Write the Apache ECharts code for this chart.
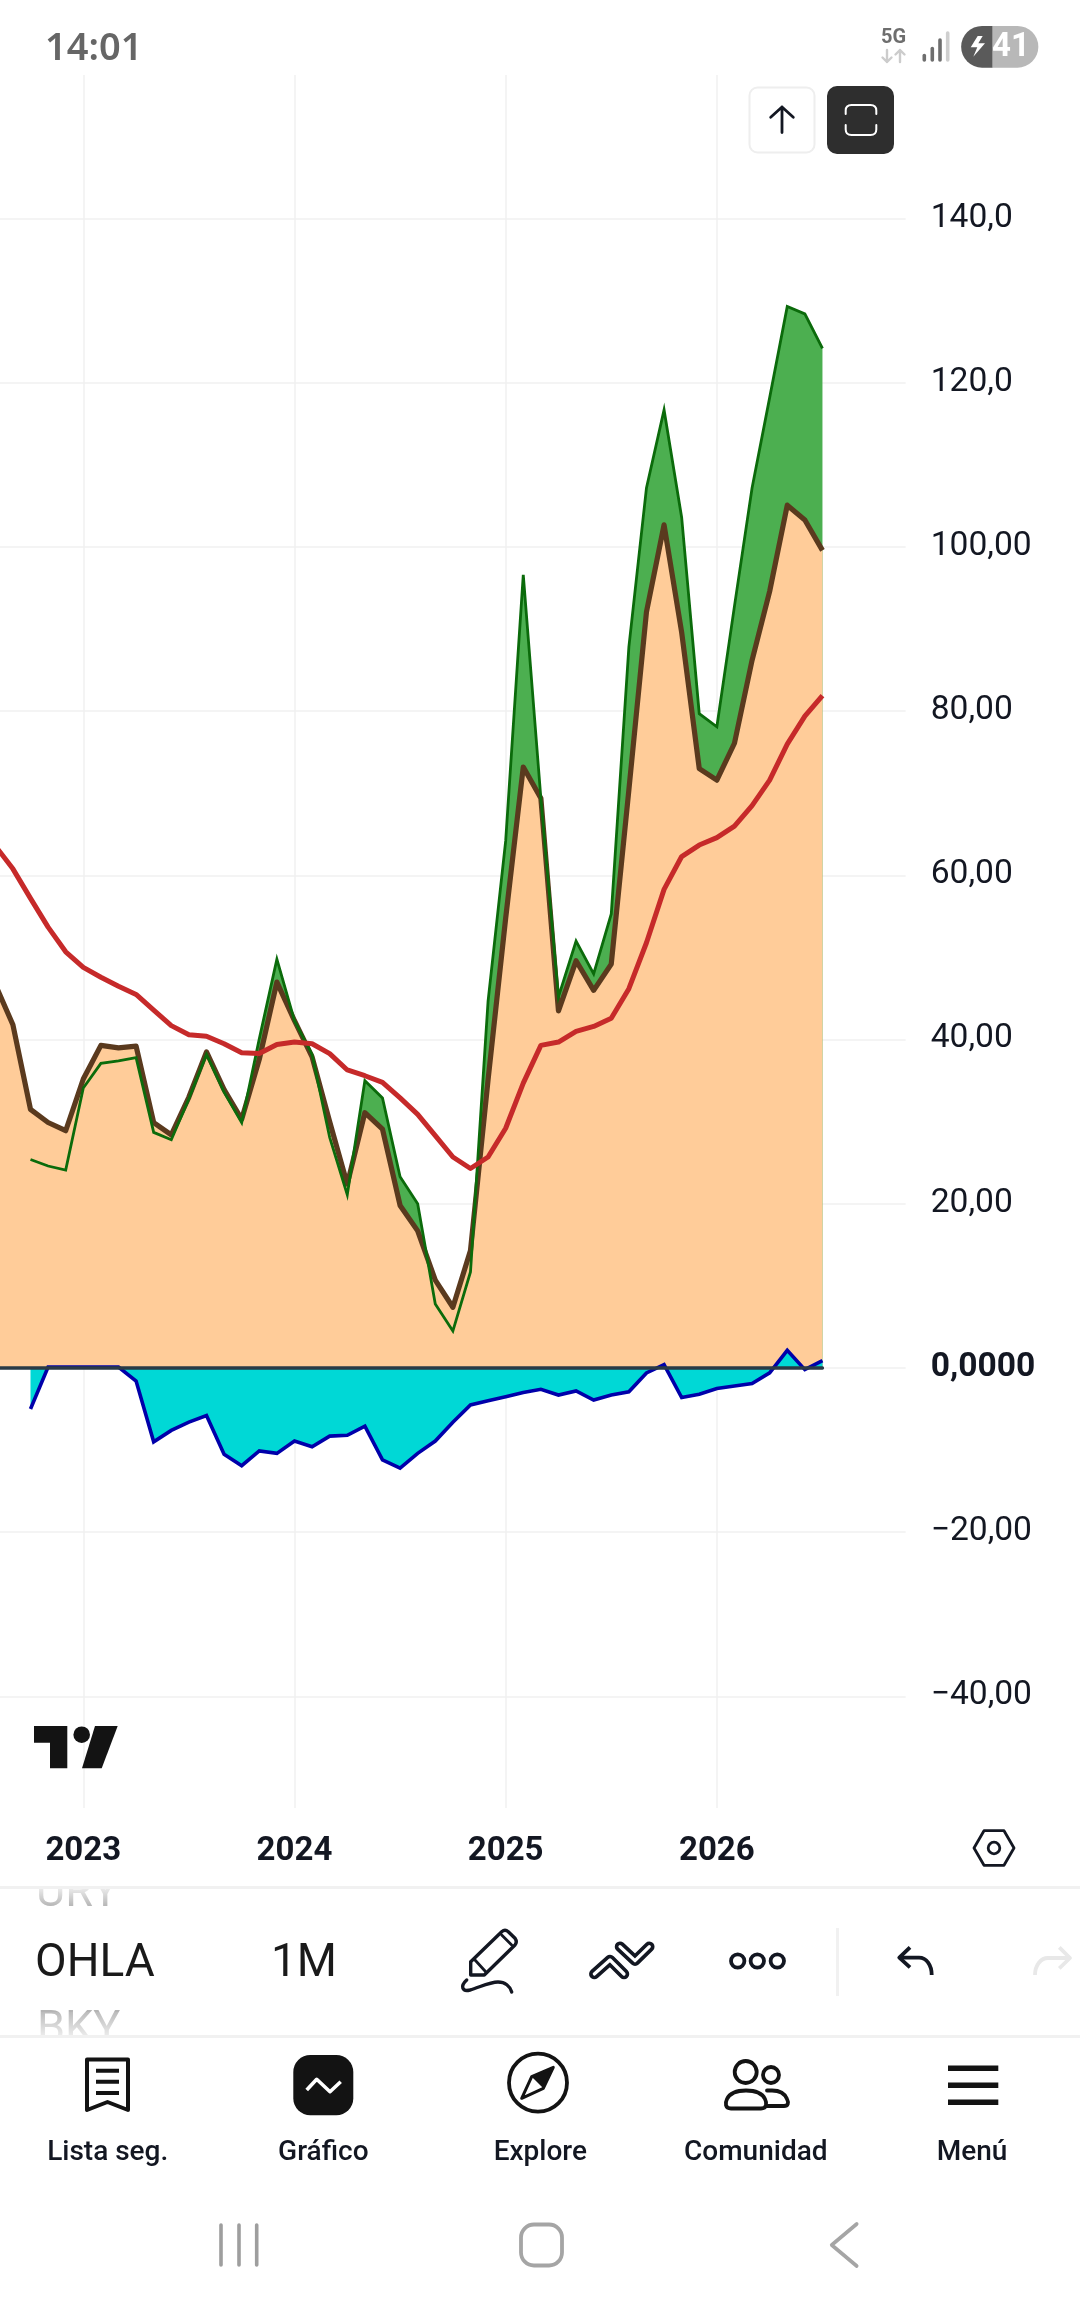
<!DOCTYPE html>
<html lang="es">
<head>
<meta charset="utf-8">
<title>OHLA 1M</title>
<style>
  html, body { margin: 0; padding: 0; background: #fff; }
  #chart { width: 1080px; height: 2316px; }
</style>
<script src="https://cdn.jsdelivr.net/npm/echarts@6/dist/echarts.min.js"></script>
</head>
<body>
<div id="chart"></div>
<script>
// Monthly sample dates
const months = [
  '2022-08','2022-09','2022-10','2022-11','2022-12',
  '2023-01','2023-02','2023-03','2023-04','2023-05','2023-06','2023-07','2023-08','2023-09','2023-10','2023-11','2023-12',
  '2024-01','2024-02','2024-03','2024-04','2024-05','2024-06','2024-07','2024-08','2024-09','2024-10','2024-11','2024-12',
  '2025-01','2025-02','2025-03','2025-04','2025-05','2025-06','2025-07','2025-08','2025-09','2025-10','2025-11','2025-12',
  '2026-01','2026-02','2026-03','2026-04','2026-05','2026-06','2026-07'
];

// Peach area with its thick brown outline
const brownValues = [
  46.7, 41.8, 31.5, 29.9, 28.9, 35.2, 39.3, 39.0, 39.2, 29.9, 28.4, 33.0,
  38.5, 33.9, 30.3, 37.6, 47.0, 42.3, 37.9, 30.0, 22.4, 31.1, 29.1, 19.8,
  16.7, 10.7, 7.4, 14.3, 35.1, 54.8, 73.2, 69.4, 43.5, 49.6, 46.0, 49.2,
  70.4, 92.1, 102.7, 89.6, 73.0, 71.6, 76.1, 86.2, 94.6, 105.1, 103.3, 99.6
];

// Green line, with the green band showing above the peach area
const greenValues = [
  null, null, 25.4, 24.6, 24.1, 34.1, 37.1, 37.4, 37.8, 28.7, 27.8, 32.8,
  38.2, 33.6, 29.9, 40.1, 49.8, 42.3, 38.2, 28.1, 21.1, 35.0, 32.9, 23.3,
  20.0, 7.8, 4.5, 11.7, 44.7, 64.2, 96.6, 69.4, 45.2, 52.0, 48.0, 55.3,
  87.8, 107.2, 116.7, 103.6, 79.7, 78.1, 92.8, 107.2, 118.2, 129.3, 128.4, 124.2
];

// Red average line
const redValues = [
  63.6, 60.8, 57.2, 53.7, 50.7, 48.8, 47.6, 46.5, 45.5, 43.6, 41.7, 40.6,
  40.4, 39.5, 38.4, 38.3, 39.4, 39.7, 39.5, 38.3, 36.3, 35.6, 34.8, 32.9,
  30.9, 28.3, 25.7, 24.3, 25.7, 29.2, 34.7, 39.3, 39.7, 41.0, 41.6, 42.6,
  46.2, 51.8, 58.3, 62.3, 63.7, 64.6, 66.0, 68.5, 71.6, 76.0, 79.4, 81.9
];

// Blue line with the turquoise area down to zero
const blueValues = [
  null, null, -5.0, 0.1, 0.1, 0.1, 0.1, 0.1, -1.6, -9.0, -7.6, -6.6,
  -5.8, -10.5, -11.9, -10.1, -10.4, -8.9, -9.6, -8.3, -8.2, -7.1, -11.2, -12.2,
  -10.4, -8.9, -6.6, -4.5, -4.0, -3.5, -3.0, -2.6, -3.3, -2.8, -3.9, -3.3,
  -2.9, -0.6, 0.4, -3.6, -3.2, -2.5, -2.2, -1.9, -0.6, 2.15, -0.2, 0.9
];

// Price scale ticks and how each one is printed
const priceTicks = [140, 120, 100, 80, 60, 40, 20, 0, -20, -40];
const priceTickLabels = ['140,0', '120,0', '100,00', '80,00', '60,00', '40,00', '20,00', '0,0000', '\u221220,00', '\u221240,00'];

// Horizontal scale: months counted from the first labelled January
const firstYearIndex = months.indexOf('2023-01');
const pairs = values => values
  .map((v, i) => [i - firstYearIndex, v])
  .filter(p => p[1] !== null);
const yearTicks = months
  .map((m, i) => [m, i - firstYearIndex])
  .filter(p => p[0].endsWith('-01'))
  .map(p => p[1]);
const zeroLine = months.map(() => 0);

const FONT = 'Roboto, sans-serif';
const INK = '#131722';
const SEPARATOR = '#f1f1f1';

const fillPath = (d, fill) => ({ type: 'path', shape: { pathData: d }, style: { fill, stroke: null } });
const strokePath = (d, stroke, lineWidth, cap) => ({
  type: 'path',
  shape: { pathData: d },
  style: { fill: null, stroke, lineWidth, lineCap: cap || 'round', lineJoin: 'round' }
});
const circle = (cx, cy, r, stroke, lineWidth) => ({
  type: 'circle',
  shape: { cx, cy, r },
  style: { fill: null, stroke, lineWidth }
});
const dot = (cx, cy, r, fill) => ({ type: 'circle', shape: { cx, cy, r }, style: { fill, stroke: null } });
const box = (x, y, width, height, fill, r) => ({
  type: 'rect',
  shape: { x, y, width, height, r: r || 0 },
  style: { fill, stroke: null }
});
const label = (text, x, y, font, fill, align) => ({
  type: 'text',
  style: { text, x, y, font, fill, align: align || 'center', verticalAlign: 'middle' }
});
const fade = (a, b) => new echarts.graphic.LinearGradient(0, 0, 0, 1, [
  { offset: 0, color: `rgba(255,255,255,${a})` },
  { offset: 1, color: `rgba(255,255,255,${b})` }
]);

// Status bar, chart buttons, watermark, symbol strip and navigation
function screenElements() {
  const navLabel = `500 28px ${FONT}`;
  const symbolFont = `400 46px ${FONT}`;
  return [
    // status bar
    label('14:01', 45, 49, `600 38px "Noto Sans", ${FONT}`, '#666666', 'left'),
    label('5G', 893.5, 38, `700 20px ${FONT}`, '#6e6e6e'),
    strokePath('M887 50V62M882.5 57.5L887 62L891.5 57.5', '#cccccc', 2.4),
    strokePath('M900 62V50M895.5 54.5L900 50L904.5 54.5', '#cccccc', 2.4),
    strokePath('M924.3 60V55.5', '#6e6e6e', 3.6),
    strokePath('M932.3 60V48.5', '#6e6e6e', 3.6),
    strokePath('M940 60V40', '#6e6e6e', 3.6),
    strokePath('M947.7 60V33', '#cfcfcf', 3.6),
    fillPath('M992.7 26H982A20.8 20.8 0 0 0 982 67.7H992.7Z', '#5a5a5a'),
    fillPath('M992.7 26H1017.5A20.8 20.8 0 0 1 1017.5 67.7H992.7Z', '#b8b8b8'),
    fillPath('M977.7 36L970.7 47.3H977.3L973.3 56.7L985 43.3H978.3L982.7 36Z', '#ffffff'),
    label('41', 1011, 47.5, `700 33px ${FONT}`, '#ffffff'),

    // chart buttons
    {
      type: 'rect',
      shape: { x: 749.5, y: 87.5, width: 65, height: 65, r: 8 },
      style: { fill: '#ffffff', stroke: '#eeeeee', lineWidth: 2 }
    },
    strokePath('M782 107V132.5M770.7 117.3L782 107L793.3 117.3', INK, 2.8),
    box(827, 86, 67, 68, '#2e2e2e', 10),
    strokePath('M845.7 114V110.5Q845.7 105 851.5 105H870.5Q876.3 105 876.3 110.5V114', '#ffffff', 2),
    strokePath('M845.7 125V129.5Q845.7 135 851.5 135H870.5Q876.3 135 876.3 129.5V125', '#ffffff', 2),

    // watermark
    fillPath('M34 1726H67.3V1768.3H50V1742.7H34Z', '#131313'),
    dot(81.7, 1734.7, 8.3, '#131313'),
    fillPath('M95 1726H117.7L101.7 1768.3H82Z', '#131313'),

    // scale settings
    strokePath('M974 1848L984 1830.7H1004L1014 1848L1004 1865.3H984Z', INK, 2.8),
    circle(994, 1848, 5.8, INK, 2.8),

    // symbol wheel
    label('URY', 36, 1895, `400 45px ${FONT}`, '#a8a8a8', 'left'),
    box(30, 1868, 100, 21, '#ffffff'),
    box(30, 1889, 100, 22, fade(0.75, 0)),
    label('OHLA', 35, 1964.5, symbolFont, '#1a1a1a', 'left'),
    label('1M', 271, 1964.5, symbolFont, '#1a1a1a', 'left'),
    label('BKY', 37, 2031, `400 45px ${FONT}`, '#b4b4b4', 'left'),
    box(30, 2012, 100, 24, fade(0.1, 0.75)),
    box(30, 2036, 100, 16, '#ffffff'),

    // separators
    box(0, 1886, 1080, 3, SEPARATOR),
    box(0, 2035, 1080, 3, SEPARATOR),
    box(836, 1928, 3, 68, SEPARATOR),

    // drawing tools
    strokePath('M470.7 1961.7L501.7 1931.7Q505 1929 508.3 1931.7L515 1938.3Q517.5 1942 515 1945L484.3 1975H470.7Z', INK, 3.4),
    strokePath('M475 1960L485.7 1971.7M501.7 1935L511.7 1945', INK, 2.8),
    strokePath('M466.7 1980C460 1986 462 1992 470 1990C480 1987 490 1982 498 1982C505 1982 510 1986 511.7 1992', INK, 3.4),
    strokePath('M594.3 1974L610 1960L624 1974', INK, 10.5),
    strokePath('M594.3 1974L610 1960L624 1974', '#ffffff', 3.2),
    strokePath('M620 1946.7L635 1960.7L649.3 1946.7', INK, 10.5),
    strokePath('M620 1946.7L635 1960.7L649.3 1946.7', '#ffffff', 3.2),
    circle(737.7, 1961, 6.7, INK, 3.8),
    circle(757.3, 1961, 6.7, INK, 3.8),
    circle(777.3, 1961, 6.7, INK, 3.8),

    // undo and redo
    strokePath('M910 1947.3L899.3 1957.7L910 1967.3', INK, 3.8, 'butt'),
    strokePath('M899.3 1957.7H919C926.5 1957.7 931.7 1965 931.7 1975', INK, 3.8, 'butt'),
    strokePath('M1059.3 1947.3L1070 1958L1059.3 1968.3', '#e8e8e8', 3.8, 'butt'),
    strokePath('M1070 1958H1048C1041 1958 1035 1965 1035 1975', '#e8e8e8', 3.8, 'butt'),

    // navigation: watchlist
    strokePath('M87 2059.5H128V2110L107.5 2102L87 2110Z', '#131313', 4, 'butt'),
    strokePath('M96 2070.7H119M96 2081.7H119M96 2093H119', '#131313', 4, 'butt'),
    label('Lista seg.', 107.7, 2153, navLabel, INK),

    // navigation: chart
    box(293.3, 2055, 60, 60.3, '#131313', 17),
    strokePath('M306.7 2090L316.7 2079.3L330 2091.7L340.7 2081.7', '#ffffff', 3.6, 'butt'),
    label('Gráfico', 323.3, 2153, navLabel, INK),

    // navigation: explore
    circle(538, 2082.7, 29, '#131313', 3.8),
    fillPath('M553.3 2067.3L531.7 2076.7L543.3 2088.3Z', '#131313'),
    strokePath('M553.3 2067.3L531.7 2076.7L521.7 2098.3L543.3 2088.3Z', '#131313', 3),
    label('Explore', 540.3, 2153, navLabel, INK),

    // navigation: community
    circle(745.7, 2072, 11, '#131313', 3.8),
    circle(771, 2075, 8, '#131313', 3.8),
    strokePath('M731 2108.5H761C767 2108.5 767 2103 765 2099C762 2093 755 2090.5 746 2090.5C737 2090.5 730 2093 727 2099C725 2103 725 2108.5 731 2108.5Z', '#131313', 3.8),
    strokePath('M767 2090.5H772C780 2090.5 785 2094 787 2099C789 2103 788 2106 784 2106H767', '#131313', 3.8),
    label('Comunidad', 755.8, 2153, navLabel, INK),

    // navigation: menu
    strokePath('M948 2068.3H998.3M948 2085.3H998.3M948 2102.3H998.3', '#131313', 5.4, 'butt'),
    label('Menú', 972, 2153, navLabel, INK),

    // system navigation
    strokePath('M221 2225V2265M239 2225V2265M256.7 2225V2265', '#9e9e9e', 3.6),
    {
      type: 'rect',
      shape: { x: 521, y: 2224.5, width: 41, height: 41, r: 13 },
      style: { fill: null, stroke: '#a5a5a5', lineWidth: 3.8 }
    },
    strokePath('M856.7 2224L831.7 2245L856.7 2266', '#a5a5a5', 3.6)
  ];
}

const chart = echarts.init(document.getElementById('chart'), null, { renderer: 'canvas', width: 1080, height: 2316 });

const hiddenSymbol = { showSymbol: false, symbol: 'none', animation: false, silent: true };

chart.setOption({
  animation: false,
  backgroundColor: '#ffffff',
  textStyle: { fontFamily: FONT },
  grid: { left: 0, top: 75, width: 905.7, height: 1733, containLabel: false },
  xAxis: {
    type: 'value',
    min: -4.733,
    max: 46.73,
    axisLine: { show: false },
    axisTick: { show: false, customValues: yearTicks },
    splitLine: { show: true, lineStyle: { color: '#f1f1f1', width: 1.5 } },
    axisLabel: {
      customValues: yearTicks,
      margin: 27,
      color: INK,
      fontFamily: FONT,
      fontSize: 33,
      fontWeight: 700,
      hideOverlap: false,
      formatter: v => months[v + firstYearIndex].slice(0, 4)
    }
  },
  yAxis: {
    type: 'value',
    position: 'right',
    min: -53.6,
    max: 157.5,
    axisLine: { show: false },
    axisTick: { show: false, customValues: priceTicks },
    splitLine: { show: true, lineStyle: { color: '#f1f1f1', width: 1.5 } },
    axisLabel: {
      customValues: priceTicks,
      margin: 25,
      align: 'left',
      color: INK,
      fontFamily: FONT,
      fontSize: 33.6,
      padding: [0, 0, 1, 0],
      hideOverlap: false,
      formatter: v => {
        const text = priceTickLabels[priceTicks.indexOf(v)];
        return v === 0 ? `{zero|${text}}` : text;
      },
      rich: {
        zero: { fontFamily: FONT, fontSize: 33.6, fontWeight: 700, color: INK }
      }
    }
  },
  series: [
    {
      name: 'green band',
      type: 'line',
      ...hiddenSymbol,
      z: 1,
      data: pairs(greenValues),
      lineStyle: { width: 0, opacity: 0 },
      areaStyle: { color: '#4caf50', opacity: 1 }
    },
    {
      name: 'peach area',
      type: 'line',
      ...hiddenSymbol,
      z: 2,
      data: pairs(brownValues),
      lineStyle: { width: 0, opacity: 0 },
      areaStyle: { color: '#ffcc99', opacity: 1 }
    },
    {
      name: 'brown line',
      type: 'line',
      ...hiddenSymbol,
      z: 3,
      data: pairs(brownValues),
      lineStyle: { color: '#5a3a1e', width: 5.2, join: 'round' }
    },
    {
      name: 'green line',
      type: 'line',
      ...hiddenSymbol,
      z: 4,
      data: pairs(greenValues),
      lineStyle: { color: '#0b6b0b', width: 2.8, join: 'miter' }
    },
    {
      name: 'red line',
      type: 'line',
      ...hiddenSymbol,
      z: 5,
      data: pairs(redValues),
      lineStyle: { color: '#c62a2a', width: 5, join: 'round' }
    },
    {
      name: 'blue line',
      type: 'line',
      ...hiddenSymbol,
      z: 6,
      data: pairs(blueValues),
      lineStyle: { color: '#0000aa', width: 3.6, join: 'miter' },
      areaStyle: { color: '#00d8d6', opacity: 1 }
    },
    {
      name: 'zero line',
      type: 'line',
      ...hiddenSymbol,
      z: 7,
      data: pairs(zeroLine),
      lineStyle: { color: '#2a3a46', width: 3.4, cap: 'round' }
    },
    {
      name: 'screen',
      type: 'custom',
      coordinateSystem: 'none',
      silent: true,
      z: 20,
      clip: false,
      data: [0],
      renderItem: () => ({ type: 'group', children: screenElements() })
    }
  ]
});
</script>
</body>
</html>
